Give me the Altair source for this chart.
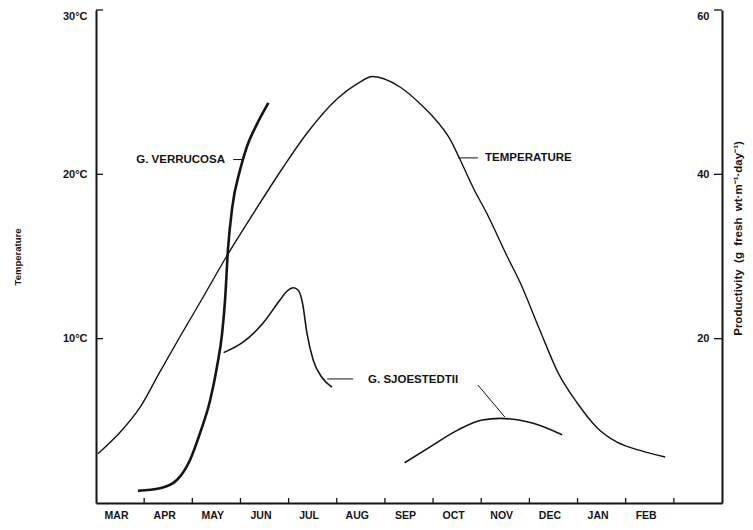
import altair as alt
import pandas as pd

# ---------------- data ----------------
months = ["MAR", "APR", "MAY", "JUN", "JUL", "AUG", "SEP", "OCT", "NOV", "DEC", "JAN", "FEB"]

# temperature (deg C) vs position along the time axis in months (0 = start of MAR)
temp_x = [0.04, 0.50, 0.91, 1.33, 1.74, 2.16, 2.71, 3.35, 3.88, 4.38, 5.01, 5.42, 5.75,
          6.32, 6.73, 7.00, 7.36, 7.56, 7.83, 8.12, 8.54, 8.81, 9.22, 9.60, 9.99, 10.40,
          10.82, 11.30, 11.82]
temp_y = [3.0, 4.3, 5.8, 8.0, 10.1, 12.2, 15.0, 18.0, 20.4, 22.5, 24.6, 25.5, 25.95,
          25.3, 24.3, 23.5, 22.1, 20.9, 19.2, 17.6, 15.0, 13.4, 10.5, 7.9, 6.1, 4.6,
          3.7, 3.2, 2.8]

# G. verrucosa productivity
ver_x = [0.87, 1.33, 1.68, 1.95, 2.16, 2.37, 2.51, 2.62, 2.68, 2.74, 2.83, 2.99, 3.13, 3.35, 3.58]
ver_y = [1.5, 1.8, 2.8, 5.2, 8.5, 12.5, 16.5, 20.7, 24.7, 30.8, 36.0, 40.5, 43.3, 46.2, 48.7]

# G. sjoestedtii productivity (two segments)
sj1_x = [2.65, 3.06, 3.47, 3.82, 3.97, 4.10, 4.20, 4.29, 4.38, 4.51, 4.69, 4.90]
sj1_y = [18.3, 19.6, 21.9, 24.7, 25.8, 26.2, 25.9, 24.3, 20.7, 17.4, 15.3, 14.1]
sj2_x = [6.41, 6.93, 7.52, 8.02, 8.39, 8.78, 9.08, 9.68]
sj2_y = [4.9, 6.8, 8.9, 10.1, 10.3, 10.1, 9.7, 8.3]

temp_ticks = [10, 20, 30]
prod_ticks = [20, 40, 60]
month_bounds = list(range(1, 13))

# annotation labels (position in month / temperature units)
lab_text = ["G. VERRUCOSA", "TEMPERATURE", "G. SJOESTEDTII"]
lab_x = [2.68, 8.08, 5.65]
lab_y = [20.9, 21.0, 7.5]
lab_align = ["right", "left", "left"]
# leader lines
lead_x = [2.85, 7.52, 4.80, 7.93]
lead_x2 = [3.06, 7.93, 5.34, 8.49]
lead_y = [20.9, 21.0, 7.55, 7.18]
lead_y2 = [20.9, 21.0, 7.55, 5.23]

# ---------------- chart ----------------
W, H = 626, 493
INK = "#141414"
FONT = "Liberation Sans"
NB = "\u00a0"

xs = alt.Scale(domain=[0, 13], nice=False, zero=False)
ys_t = alt.Scale(domain=[0, 30], nice=False, zero=False)
ys_p = alt.Scale(domain=[0, 60], nice=False, zero=False)

months_js = "[" + ",".join("'%s'" % m for m in months) + "]"

x_axis = alt.Axis(values=list(range(len(months))), labelExpr=months_js + "[datum.value]",
                  labelOffset=20, labelAlign="center", labelPadding=7, ticks=False,
                  labelFlush=False, labelOverlap=False, title=None, grid=False,
                  domainWidth=2, domainColor=INK, labelFontSize=10.5)
yl_axis = alt.Axis(values=temp_ticks, labelExpr="datum.value + '°C'", ticks=False,
                   orient="left", labelFlush=True,
                   labelPadding=9, grid=False, domainWidth=2, domainColor=INK,
                   title="Temperature", titleX=-79, titleBaseline="middle",
                   titleFontSize=9.5, labelFontSize=11)
yr_axis = alt.Axis(values=prod_ticks, orient="right", ticks=False, labelAlign="right",
                   labelFlush=True,
                   labelPadding=-13, grid=False, domainWidth=2, domainColor=INK,
                   title="Productivity" + NB + NB + "(g" + NB + NB + "fresh" + NB + NB
                         + "wt·m⁻¹·day⁻¹)",
                   titleAngle=270,
                   titleX=16, titleY=228, titleBaseline="middle", titleFontSize=11.5,
                   labelFontSize=11)


def X(field):
    return alt.X(field, scale=xs, axis=x_axis)


df_t = pd.DataFrame({"x": temp_x, "y": temp_y})
df_v = pd.DataFrame({"x": ver_x, "y": ver_y})
df_s = pd.DataFrame({"x": sj1_x + sj2_x, "y": sj1_y + sj2_y,
                     "seg": [1] * len(sj1_x) + [2] * len(sj2_x)})
df_lab = pd.DataFrame({"t": lab_text, "x": lab_x, "y": lab_y, "a": lab_align})
df_lead = pd.DataFrame({"x": lead_x, "x2": lead_x2, "y": lead_y, "y2": lead_y2})
df_xt = pd.DataFrame({"x": month_bounds})
df_yt = pd.DataFrame({"t": temp_ticks})

temp_line = alt.Chart(df_t).mark_line(interpolate="monotone", color=INK, strokeWidth=1.4).encode(
    x=X("x:Q"),
    y=alt.Y("y:Q", scale=ys_t, axis=yl_axis),
)
ver_line = alt.Chart(df_v).mark_line(interpolate="monotone", color=INK, strokeWidth=2.6).encode(
    x=X("x:Q"),
    y=alt.Y("y:Q", scale=ys_p, axis=yr_axis),
)
sj_line = alt.Chart(df_s).mark_line(interpolate="monotone", color=INK, strokeWidth=1.6).encode(
    x=X("x:Q"),
    y=alt.Y("y:Q", scale=ys_p, axis=None),
    detail="seg:N",
)

labels_r = alt.Chart(df_lab).transform_filter(alt.datum.a == "right").mark_text(
    align="right", baseline="middle", font=FONT, fontSize=11.5, fontWeight="bold", color=INK
).encode(x=X("x:Q"), y=alt.Y("y:Q", scale=ys_t, axis=None), text="t:N")
labels_l = alt.Chart(df_lab).transform_filter(alt.datum.a == "left").mark_text(
    align="left", baseline="middle", font=FONT, fontSize=11.5, fontWeight="bold", color=INK
).encode(x=X("x:Q"), y=alt.Y("y:Q", scale=ys_t, axis=None), text="t:N")

leaders = alt.Chart(df_lead).mark_rule(color=INK, strokeWidth=1).encode(
    x=X("x:Q"), x2="x2:Q",
    y=alt.Y("y:Q", scale=ys_t, axis=None), y2="y2:Q",
)

xticks = alt.Chart(df_xt).mark_rule(color=INK, strokeWidth=1.3).encode(
    x=X("x:Q"), y=alt.value(H), y2=alt.value(H - 5))
lticks = alt.Chart(df_yt).mark_rule(color=INK, strokeWidth=1.3).encode(
    y=alt.Y("t:Q", scale=ys_t, axis=None), x=alt.value(0), x2=alt.value(7))
rticks = alt.Chart(df_yt).mark_rule(color=INK, strokeWidth=1.3).encode(
    y=alt.Y("t:Q", scale=ys_t, axis=None), x=alt.value(W - 8), x2=alt.value(W))

chart = alt.layer(
    temp_line, ver_line, sj_line, labels_r, labels_l, leaders, xticks, lticks, rticks
).resolve_scale(y="independent").properties(
    width=W, height=H,
    autosize=alt.AutoSizeParams(type="none"),
    padding={"left": 88, "top": 2, "right": 23, "bottom": 20},
).configure_view(stroke=None).configure_axis(
    labelFont=FONT, titleFont=FONT, labelFontWeight="bold", titleFontWeight="bold",
    labelColor=INK, titleColor=INK,
)

chart.save("out.html", embed_options={"renderer": "svg", "actions": False})
